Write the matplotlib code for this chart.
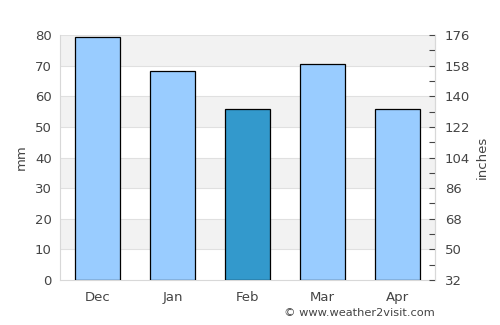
import matplotlib
matplotlib.use('Agg')
import matplotlib.pyplot as plt
import numpy as np

months = ['Dec', 'Jan', 'Feb', 'Mar', 'Apr']
rain_mm = [79.3, 68.2, 55.8, 70.4, 55.8]
highlight = 'Feb'
left_ticks = [0, 10, 20, 30, 40, 50, 60, 70, 80]
right_ticks = [32, 50, 68, 86, 104, 122, 140, 158, 176]

txt = '#444444'
fig = plt.figure(figsize=(5, 3.25), dpi=100)
ax = fig.add_axes([0.12, 0.1385, 0.75, 0.7535])

# alternating bands
for lo in range(10, 80, 20):
    ax.axhspan(lo, lo + 10, color='#f2f2f2', zorder=0, lw=0)
for y in left_ticks[1:]:
    ax.axhline(y, color='#e0e0e0', lw=0.8, zorder=1)

x = np.arange(len(months))
colors = ['#3399cc' if m == highlight else '#99ccff' for m in months]
ax.bar(x, rain_mm, width=0.6, color=colors, edgecolor='black', lw=0.9, zorder=3)

ax.set_xlim(-0.5, 4.5)
ax.set_ylim(0, 80)
ax.set_xticks(x)
ax.set_xticklabels(months)
ax.set_yticks(left_ticks)
ax.tick_params(axis='both', length=0, labelsize=9.5, colors=txt, pad=6)
ax.tick_params(axis='x', pad=8)
ax.set_ylabel('mm', color=txt, fontsize=9.5, labelpad=5)
ax.spines['top'].set_visible(False)
for s in ['left', 'bottom', 'right']:
    ax.spines[s].set_color('#d8d8d8')

ax2 = ax.twinx()
ax2.set_ylim(32, 176)
ax2.set_yticks(right_ticks)
ax2.set_yticks([t + 9 for t in right_ticks[:-1]], minor=True)
ax2.tick_params(axis='y', which='both', direction='in', length=4, width=0.8,
                color=txt, labelsize=9.5, labelcolor=txt, pad=7)
ax2.set_ylabel('inches', color=txt, fontsize=9.5, labelpad=4)
for s in ['top', 'left', 'bottom']:
    ax2.spines[s].set_visible(False)
ax2.spines['right'].set_color('#d8d8d8')

fig.text(0.87, 0.037, '\u00a9 www.weather2visit.com', ha='right', va='center', fontsize=8.2, color=txt)

plt.savefig('out.png', dpi=100)
